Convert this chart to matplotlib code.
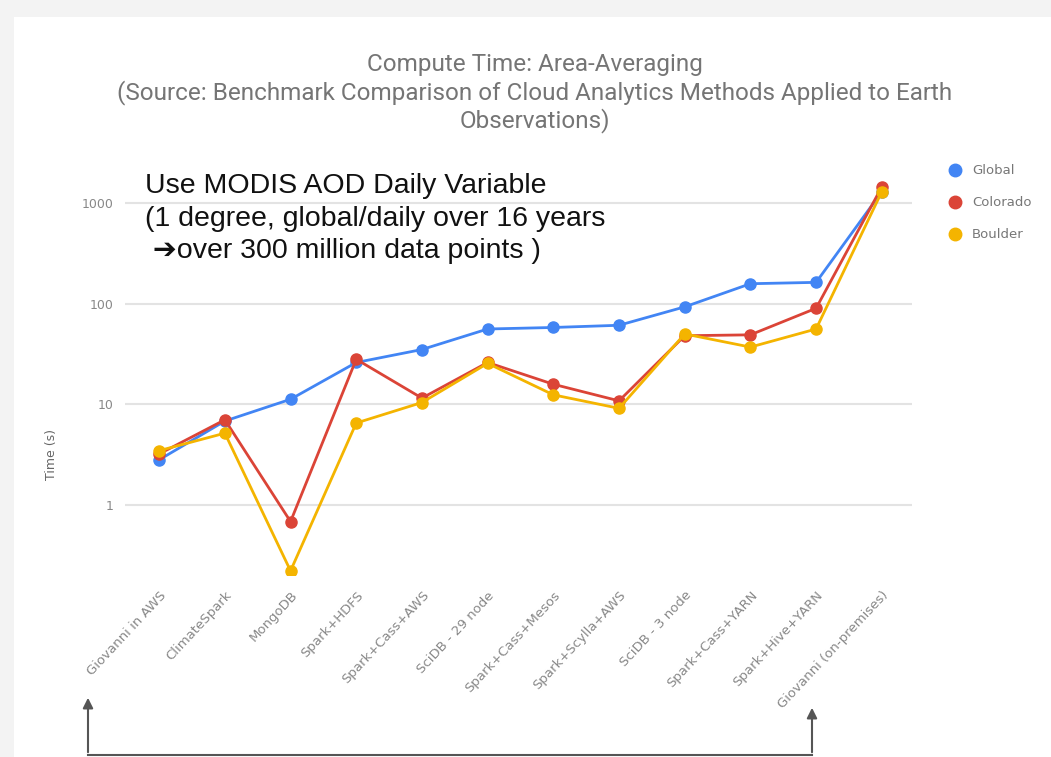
import matplotlib.pyplot as plt
from matplotlib.patches import Rectangle, FancyArrowPatch
from matplotlib.lines import Line2D

methods = ["Giovanni in AWS", "ClimateSpark", "MongoDB", "Spark+HDFS",
           "Spark+Cass+AWS", "SciDB - 29 node", "Spark+Cass+Mesos",
           "Spark+Scylla+AWS", "SciDB - 3 node", "Spark+Cass+YARN",
           "Spark+Hive+YARN", "Giovanni (on-premises)"]
global_t = [2.8, 6.8, 11.2, 26, 35, 56, 58, 61, 93, 158, 163, 1300]
colorado_t = [3.2, 7.0, 0.68, 28, 11.5, 26, 15.8, 10.8, 48, 49, 90, 1450]
boulder_t = [3.45, 5.15, 0.22, 6.5, 10.4, 25.5, 12.4, 9.1, 50, 37, 56, 1300]

series = [("Global", global_t, "#4285F4"),
          ("Colorado", colorado_t, "#DB4437"),
          ("Boulder", boulder_t, "#F4B400")]

W, H = 1051, 757
fig = plt.figure(figsize=(W / 100, H / 100), dpi=100)
fig.patch.set_facecolor("#f3f3f3")
# white panel
fig.add_artist(Rectangle((14 / W, 0), 1, 1 - 17 / H, transform=fig.transFigure,
                         facecolor="white", edgecolor="none", zorder=-10))

ax = fig.add_axes([125 / W, 1 - 575 / H, (912 - 125) / W, (575 - 180) / H])
ax.set_facecolor("white")
x = list(range(len(methods)))
for name, vals, col in series:
    ax.plot(x, vals, color=col, lw=2, marker="o", ms=8, label=name)

ax.set_yscale("log")
ax.set_ylim(0.2, 1700)
ax.set_xlim(-0.52, 11.46)
ax.set_yticks([1, 10, 100, 1000])
ax.set_yticklabels(["1", "10", "100", "1000"])
ax.minorticks_off()
ax.yaxis.grid(True, color="#e3e3e3", lw=1.5)
ax.set_axisbelow(True)
for s in ax.spines.values():
    s.set_visible(False)
ax.tick_params(axis="y", length=0, pad=8, labelsize=9, labelcolor="#888888")
ax.tick_params(axis="x", length=0, pad=10, labelsize=9.5, labelcolor="#888888")
ax.set_xticks(x)
ax.set_xticklabels(methods, rotation=47, ha="right", va="top",
                   rotation_mode="anchor")

fig.text(52 / W, 1 - 455 / H, "Time (s)", rotation=90, ha="center",
         va="center", fontsize=9, color="#666666")

title_lines = ["Compute Time: Area-Averaging",
               "(Source: Benchmark Comparison of Cloud Analytics Methods Applied to Earth",
               "Observations)"]
for i, t in enumerate(title_lines):
    fig.text(535 / W, 1 - (64 + 28.5 * i) / H, t, ha="center", va="center",
             fontsize=17.5, color="#757575", family="Roboto")

note = ["Use MODIS AOD Daily Variable",
        "(1 degree, global/daily over 16 years",
        " \u2794over 300 million data points )"]
for i, t in enumerate(note):
    fig.text(145 / W, 1 - (186 + 32.5 * i) / H, t, ha="left", va="center",
             fontsize=20.5, color="#111111",
             family=["Liberation Sans", "DejaVu Sans"])

# legend
for i, (name, vals, col) in enumerate(series):
    yy = 1 - (170 + 32 * i) / H
    fig.add_artist(Line2D([955 / W], [yy], marker="o", ms=9, color=col,
                          transform=fig.transFigure))
    fig.text(972 / W, yy, name, ha="left", va="center", fontsize=9.5,
             color="#777777")

# bracket arrows at the bottom
ybot = 1 - 755 / H
fig.add_artist(Line2D([88 / W, 812 / W], [ybot, ybot], color="#555555", lw=1.5,
                      transform=fig.transFigure))
for xx, tip in [(88, 695), (812, 705)]:
    fig.add_artist(FancyArrowPatch((xx / W, ybot), (xx / W, 1 - tip / H),
                                   transform=fig.transFigure,
                                   arrowstyle="-|>,head_length=6,head_width=3",
                                   color="#555555", lw=1.5))

fig.savefig("out.png", dpi=100, facecolor=fig.get_facecolor())
